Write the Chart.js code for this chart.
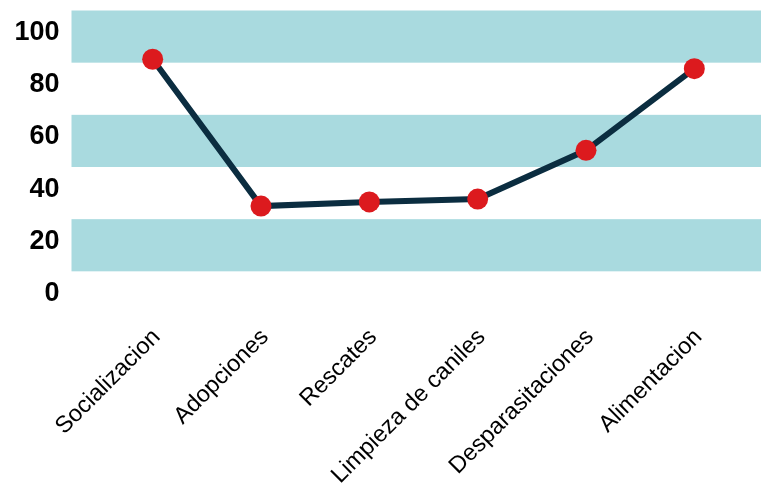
<!DOCTYPE html>
<html>
<head>
<meta charset="utf-8">
<script src="https://cdn.jsdelivr.net/npm/chart.js@4.4.0/dist/chart.umd.min.js"></script>
<style>
  html, body { margin: 0; padding: 0; background: #ffffff; }
  #wrap { width: 761px; height: 483px; }
</style>
</head>
<body>
<div id="wrap"><canvas id="chart"></canvas></div>
<script>
(function() {
    const categories = ['Socializacion', 'Adopciones', 'Rescates', 'Limpieza de caniles', 'Desparasitaciones', 'Alimentacion'];
    const values = [89.8, 33.5, 35.1, 36.2, 54.9, 86.2];
    const yTicks = [0, 20, 40, 60, 80, 100];
    // shaded horizontal bands (value ranges)
    const bands = [[8.5, 28.5], [48.5, 68.5], [88.5, 108.5]];

    const bandPlugin = {
        id: 'bands',
        beforeDatasetsDraw(chart) {
            const ctx = chart.ctx;
            const y = chart.scales.y;
            const left = chart.chartArea.left - 27;
            ctx.save();
            ctx.fillStyle = '#a9dadf';
            bands.forEach(b => {
                const top = y.getPixelForValue(b[1]);
                const bottom = y.getPixelForValue(b[0]);
                ctx.fillRect(left, top, chart.width - left, bottom - top);
            });
            ctx.restore();
        }
    };

    new Chart(
        document.getElementById('chart'),
        {
            type: 'line',
            data: {
                labels: categories,
                datasets: [
                    {
                        data: values,
                        borderColor: '#0b2d40',
                        borderWidth: 6,
                        pointBackgroundColor: '#dc1a1e',
                        pointBorderWidth: 0,
                        pointRadius: 10.5,
                        tension: 0
                    }
                ]
            },
            options: {
                responsive: true,
                maintainAspectRatio: false,
                animation: false,
                layout: { padding: { top: 10, right: 12.5, left: 0, bottom: 0 } },
                plugins: {
                    legend: { display: false },
                    tooltip: { enabled: false }
                },
                scales: {
                    x: {
                        offset: true,
                        grid: { display: false, drawTicks: false },
                        border: { display: false },
                        ticks: {
                            color: '#000000',
                            minRotation: 45,
                            maxRotation: 45,
                            padding: 30,
                            labelOffset: 4,
                            font: { family: '"Liberation Sans", Arial, sans-serif', size: 23.5 }
                        },
                        afterFit(scale) { scale.height = 189.5; }
                    },
                    y: {
                        min: 0,
                        max: 108.5,
                        grid: { display: false, drawTicks: false },
                        border: { display: false },
                        afterBuildTicks(axis) {
                            axis.ticks = yTicks.map(v => ({ value: v }));
                        },
                        afterFit(scale) {
                            scale.width = 98.5;
                            scale.paddingTop = 0;
                            scale.paddingBottom = 0;
                        },
                        ticks: {
                            color: '#000000',
                            padding: 39,
                            font: { family: '"Liberation Sans", Arial, sans-serif', size: 27, weight: 'bold' }
                        }
                    }
                }
            },
            plugins: [bandPlugin]
        }
    );
})();
</script>
</body>
</html>
